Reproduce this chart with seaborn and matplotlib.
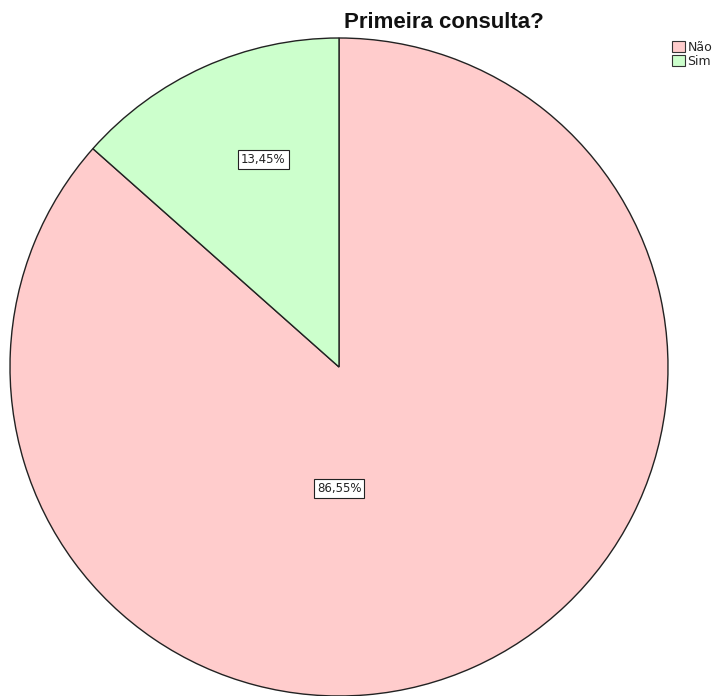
import matplotlib
matplotlib.use("Agg")
import matplotlib.pyplot as plt
import seaborn as sns
from matplotlib.patches import Patch

sns.set_theme(style="white")
plt.rcParams['font.family'] = ['DejaVu Sans']

categories = ["Não", "Sim"]
percentages = [86.55, 13.45]
colors = ["#FFCCCC", "#CCFFCC"]
title = "Primeira consulta?"

fig = plt.figure(figsize=(7.21, 6.96), dpi=100)
fig.patch.set_facecolor("white")
ax = fig.add_axes([10/721, 0.0, 658/721, 658/696])

wedges, _ = ax.pie(percentages, colors=colors, startangle=90, counterclock=False,
                   wedgeprops=dict(edgecolor="#222222", linewidth=1.0))
ax.set_xlim(-1, 1)
ax.set_ylim(-1, 1)
ax.set_aspect("equal")
ax.axis("off")

def fmt(v):
    return f"{v:.2f}".replace(".", ",") + "%"

# label positions (SPSS-style placement)
label_pos = [(0.0, -0.37), (-0.23, 0.63)]
for v, (x, y) in zip(percentages, label_pos):
    ax.text(x, y, fmt(v), ha="center", va="center", fontsize=8.5, color="#222222",
            bbox=dict(boxstyle="square,pad=0.25", facecolor="white", edgecolor="#222222", linewidth=0.8))

fig.text(444/721, 1 - 23/696, title, ha="center", va="center", fontsize=16,
         fontweight="bold", family=["Liberation Sans", "DejaVu Sans"], color="#111111")

handles = [Patch(facecolor=c, edgecolor="#333333", linewidth=0.8, label=l) for c, l in zip(colors, categories)]
fig.legend(handles=handles, loc="upper left", bbox_to_anchor=(672/721, 1 - 41/696),
           frameon=False, fontsize=9, handlelength=1.0, handleheight=0.95,
           handletextpad=0.25, labelspacing=0.05, borderpad=0.0, borderaxespad=0.0)

fig.savefig("out.png", dpi=100, facecolor="white")
